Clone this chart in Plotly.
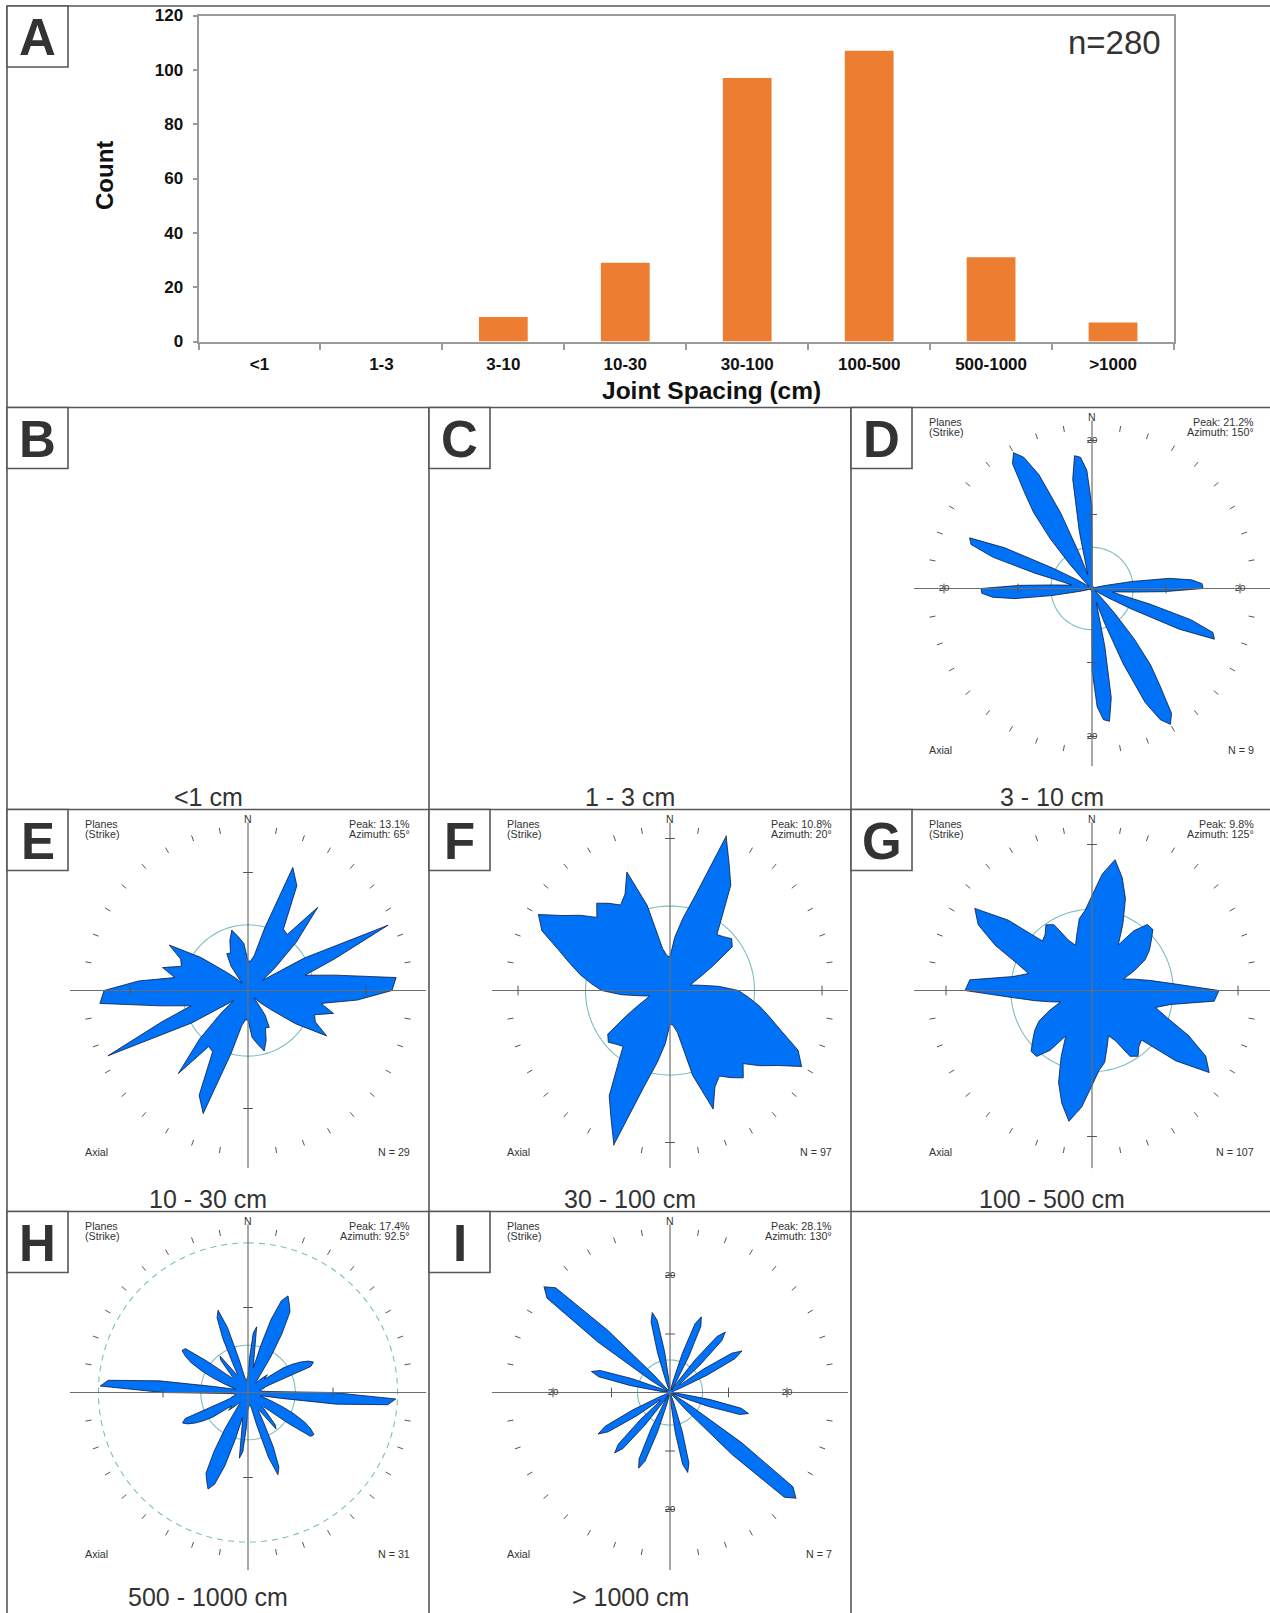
import plotly.graph_objects as go

W, H = 1270, 1613
FONT = "Liberation Sans, Arial, Helvetica, sans-serif"

# ---------------- Panel A data ----------------
spacing_classes = ["<1", "1-3", "3-10", "10-30", "30-100", "100-500", "500-1000", ">1000"]
joint_counts = [0, 0, 9, 29, 97, 107, 31, 7]
count_ticks = [0, 20, 40, 60, 80, 100, 120]
total_label = "n=280"

# ---------------- Panels B-I ----------------
panel_letters = ["B", "C", "D", "E", "F", "G", "H", "I"]
panel_titles = ["<1 cm", "1 - 3 cm", "3 - 10 cm", "10 - 30 cm", "30 - 100 cm",
                "100 - 500 cm", "500 - 1000 cm", "> 1000 cm"]

# Rose diagrams: percent of planes per strike azimuth, 0..180 deg (axial -> mirrored)
rose_D = [11, 0.5,
          0.3, 0.3, 0.3, 0.3, 0.3, 0.3, 0.3,
          0.3, 0.3, 0.3, 0.3, 0.3, 0.3, 0.3,
          0.3, 0.3, 0.3, 0.3, 0.3, 0.3, 0.3,
          0.3, 0.3, 0.3, 0.3, 0.3, 0.3, 0.3,
          1, 2, 5.5, 10.5, 13.5, 14.9, 15, 9.8, 5.5, 3.5,
          2.8, 4, 8, 14, 17.4, 17.9, 13, 6, 2.5, 1,
          0.5, 0.5, 0.5, 1, 2, 4.5, 8.8, 13, 16, 20,
          21.2, 20, 17, 11, 5, 2, 3, 8, 15, 18.1,
          17.8, 16]
rose_E = [2.5, 2.5, 3, 5.5, 11.1, 9.8, 6, 5.8, 9.2, 5.8,
          3, 1.5, 5.5, 13.1, 7.8, 5, 7.5, 12.6, 12.2, 9.3,
          6.3, 7.5, 6, 6.3, 7.7, 4.9, 2.5, 1.5, 0.8, 2.5,
          3.6, 3.5, 4.5, 5.3, 4.6, 4]
rose_F = [2.2, 3.5, 4.8, 6.5, 10.8, 9.2, 8, 6, 4.8, 5,
          5.3, 5, 3.3, 2.3, 1.7, 1.4, 2, 3.2, 4.5, 5.2,
          6, 6.8, 7.8, 9.3, 10, 8.6, 7.7, 6.8, 7.5, 7,
          6.5, 7, 8.3, 5.8, 2.8, 2.3]
rose_G = [6.5, 8, 9.1, 8, 6.7, 5, 3.6, 5, 5.9, 5.9,
          5.3, 4.8, 4.2, 3.2, 2.3, 3, 4, 5.5, 8.7, 8.4,
          5.5, 4.5, 5.5, 7.3, 9, 9.8, 7.5, 4.8, 5, 5.5,
          5.2, 3.8, 3.3, 4, 5, 5.5]
rose_H = [2, 4, 7, 7.8, 4, 3, 5.5, 9, 11.5, 12.3,
          11.5, 10.7, 8, 5, 2.5, 1.5, 1.5, 2, 2.5, 3.1,
          2.5, 3, 5, 6.2, 7.2, 8, 8.5, 8, 3, 2,
          2, 1.5, 1.5, 1.5, 1.8, 2.5, 10, 17.4, 16.5, 10.5,
          4, 2, 1.5, 2, 3, 4.5, 6, 7.5, 8.5, 9.2,
          9, 6, 3.5, 2.5, 2.5, 3.5, 5, 5.4, 3.5, 2.5,
          2.5, 4, 7, 9.5, 10.3, 8, 4, 2, 1.5, 1.5,
          1.5, 1.8]
rose_I = [0.5, 0.5, 0.5, 0.5, 0.5, 0.5, 2, 7, 12.5, 14,
          12.5, 7, 2, 0.5, 2, 7, 12.5, 14, 12.5, 7,
          2, 2, 7, 12.5, 14.2, 12.5, 7, 2, 0.5, 0.5,
          0.5, 0.5, 0.5, 0.5, 0.5, 0.5, 0.5, 0.5, 0.5, 2,
          7, 12.5, 13.9, 12.5, 7, 2, 0.5, 0.5, 0.5, 4,
          15, 26.5, 28.1, 26.5, 15, 4, 0.5, 0.5, 0.5, 0.5,
          0.5, 0.5, 0.5, 0.5, 2, 7, 12.5, 14, 12.5, 7,
          2, 0.5]
rose_sets = [rose_D, rose_E, rose_F, rose_G, rose_H, rose_I]
rose_bin_deg = [2.5, 5, 5, 5, 2.5, 2.5]
rose_peak = ["21.2%", "13.1%", "10.8%", "9.8%", "17.4%", "28.1%"]
rose_azimuth = ["150°", "65°", "20°", "125°", "92.5°", "130°"]
rose_n = [9, 29, 97, 107, 31, 7]
uniform_pct = 5.56          # reference circle (uniform distribution)
h_outer_circle_pct = 17.6   # dashed circle in panel H
axis_value_label = 20

# ---------------- styling / layout ----------------
col_left = [7, 429, 851]
row_top = [407.5, 809.5, 1211.5]
subtitle_dy = [389, 389, 385.5]
cell_pos = {"B": (0, 0), "C": (1, 0), "D": (2, 0), "E": (0, 1), "F": (1, 1),
            "G": (2, 1), "H": (0, 2), "I": (1, 2)}
rose_letters = ["D", "E", "F", "G", "H", "I"]
rose_px_per_pct = [7.4, 11.8, 15.2, 14.6, 8.5, 5.85]
rose_labelled = [True, False, False, False, False, True]
BLUE = "#0072F7"
TEAL = "#7DBDBD"
BORDER = "#575757"
TXT = "#333333"


def px(x):
    return x / W


def py(y):
    return 1 - y / H


fig = go.Figure()
shapes = []
annotations = []


def line(x0, y0, x1, y1, color=BORDER, width=1.6):
    shapes.append(dict(type="line", xref="paper", yref="paper",
                       x0=px(x0), y0=py(y0), x1=px(x1), y1=py(y1),
                       line=dict(color=color, width=width)))


def text(t, x, y, size, xanchor="center", color=TXT, bold=False):
    annotations.append(dict(text=("<b>%s</b>" % t) if bold else t,
                            x=px(x), y=py(y), xref="paper", yref="paper",
                            xanchor=xanchor, yanchor="middle", showarrow=False,
                            font=dict(family=FONT, size=size, color=color)))


# frame / grid lines
line(7, 6, 1270, 6)
line(7, 6, 7, 1613)
for yy in row_top:
    line(7, yy, 1270, yy)
line(429, row_top[0], 429, 1613)
line(851, row_top[0], 851, 1613)


def letter_box(letter, x0, y0):
    shapes.append(dict(type="rect", xref="paper", yref="paper",
                       x0=px(x0), y0=py(y0 + 61), x1=px(x0 + 61), y1=py(y0),
                       line=dict(color=BORDER, width=1.6), fillcolor="white"))
    text(letter, x0 + 30.5, y0 + 32, 51, bold=True)


letter_box("A", 7, 6)

# ---------------- Panel A: bar chart ----------------
fig.add_trace(go.Bar(x=spacing_classes, y=joint_counts, width=0.4,
                     marker=dict(color="#ED7D31", line=dict(width=0)),
                     hoverinfo="x+y", xaxis="x", yaxis="y"))

axis_common = dict(showline=True, linecolor="#9a9a9a", linewidth=2, mirror=True,
                   showgrid=False, zeroline=False, ticks="outside",
                   tickcolor="#9a9a9a", tickwidth=1.5, automargin=False)
fig.update_layout(
    xaxis=dict(domain=[px(198.5), px(1174)], type="category",
               categoryorder="array", categoryarray=spacing_classes,
               tickson="boundaries", ticklen=6, ticklabelstandoff=6,
               tickfont=dict(family=FONT, size=17, color="#111", weight="bold"),
               anchor="y", **axis_common),
    yaxis=dict(domain=[py(341.5), py(15.5)], range=[0, 120], tickvals=count_ticks,
               ticklen=4, ticklabelstandoff=6,
               tickfont=dict(family=FONT, size=17, color="#111", weight="bold"),
               anchor="x", **axis_common),
)
text("Count", 0, 0, 24, bold=True)
annotations[-1].update(x=px(105), y=py(176), textangle=-90, font=dict(family=FONT, size=24, color="#111"))
text("Joint Spacing (cm)", 711, 391, 24.5, color="#111", bold=True)
text(total_label, 1163, 43, 33, xanchor="right", color=TXT)

# ---------------- Panels B-I ----------------
for letter, title in zip(panel_letters, panel_titles):
    c, r = cell_pos[letter]
    x0, y0 = col_left[c], row_top[r]
    letter_box(letter, x0, y0)
    text(title, x0 + 201, y0 + subtitle_dy[r], 25)

circle_theta = list(range(0, 361, 3))

for k, letter in enumerate(rose_letters):
    c, r = cell_pos[letter]
    x0, y0 = col_left[c], row_top[r]
    cx, cy = x0 + 241, y0 + 181
    R = 178
    ppp = rose_px_per_pct[k]
    rmax = R / ppp
    name = "polar" if k == 0 else "polar%d" % (k + 1)
    fig.layout[name] = dict(
        domain=dict(x=[max(0, px(cx - R)), min(1, px(cx + R))],
                    y=[py(cy + R), py(cy - R)]),
        bgcolor="rgba(0,0,0,0)",
        radialaxis=dict(visible=False, range=[0, rmax]),
        angularaxis=dict(visible=False, direction="clockwise", rotation=90,
                         showgrid=False, showline=False, showticklabels=False, ticks=""),
    )

    # uniform reference circle
    fig.add_trace(go.Scatterpolar(r=[uniform_pct] * len(circle_theta), theta=circle_theta,
                                  mode="lines", line=dict(color=TEAL, width=1.1),
                                  subplot=name, hoverinfo="skip"))
    if letter == "H":
        fig.add_trace(go.Scatterpolar(r=[h_outer_circle_pct] * len(circle_theta),
                                      theta=circle_theta, mode="lines",
                                      line=dict(color=TEAL, width=1.1, dash="6px,5px"),
                                      subplot=name, hoverinfo="skip"))

    # rose petals (axial: mirrored through 180 deg)
    vals = rose_sets[k]
    step = rose_bin_deg[k]
    n = len(vals)
    theta = [i * step for i in range(2 * n)] + [0]
    rr = vals + vals + [vals[0]]
    fig.add_trace(go.Scatterpolar(r=rr, theta=theta, mode="lines", fill="toself",
                                  fillcolor=BLUE, line=dict(color="#0d1a40", width=0.8),
                                  subplot=name, hoverinfo="skip"))

    # cross-hair axes
    cr, ct = [], []
    for t, rend in ((0, 168 / ppp), (90, rmax), (180, rmax), (270, rmax)):
        cr += [0, rend, None]
        ct += [t, t, None]
    fig.add_trace(go.Scatterpolar(r=cr, theta=ct, mode="lines",
                                  line=dict(color="#6e6e6e", width=1.2),
                                  subplot=name, hoverinfo="skip"))

    # outer ring of 10-degree dashes
    dr, dt = [], []
    for t in range(10, 360, 10):
        if t % 90:
            dr += [159 / ppp, 165 / ppp, None]
            dt += [t, t, None]
    fig.add_trace(go.Scatterpolar(r=dr, theta=dt, mode="lines",
                                  line=dict(color="#555", width=1),
                                  subplot=name, hoverinfo="skip"))

    # scale ticks on the axes
    tr, tt, ts = [], [], []
    v = 10
    while v * ppp < 158:
        for t in (0, 90, 180, 270):
            tr.append(v)
            tt.append(t)
            ts.append("line-ew" if t in (0, 180) else "line-ns")
        v += 10
    fig.add_trace(go.Scatterpolar(r=tr, theta=tt, mode="markers",
                                  marker=dict(symbol=ts, size=7, color="#555",
                                              line=dict(color="#555", width=1)),
                                  subplot=name, hoverinfo="skip"))
    if rose_labelled[k]:
        fig.add_trace(go.Scatterpolar(r=[axis_value_label] * 4, theta=[0, 90, 180, 270],
                                      mode="text", text=[str(axis_value_label)] * 4,
                                      textfont=dict(family=FONT, size=9.5, color="#333"),
                                      subplot=name, hoverinfo="skip"))

    # panel texts
    text("N", cx, cy - 172, 10.5)
    text("Planes", x0 + 76, y0 + 14, 10.7, xanchor="left")
    text("(Strike)", x0 + 76, y0 + 24, 10.7, xanchor="left")
    text("Peak: " + rose_peak[k], x0 + 405, y0 + 14, 10.7, xanchor="right")
    text("Azimuth: " + rose_azimuth[k], x0 + 405, y0 + 24, 10.7, xanchor="right")
    text("Axial", x0 + 76, y0 + 342, 10.7, xanchor="left")
    text("N = %d" % rose_n[k], x0 + 405, y0 + 342, 10.7, xanchor="right")

fig.update_layout(
    width=W, height=H, margin=dict(l=0, r=0, t=0, b=0, autoexpand=False),
    paper_bgcolor="white", plot_bgcolor="white", showlegend=False,
    shapes=shapes, annotations=annotations,
    font=dict(family=FONT, color=TXT),
)

fig.write_html(
    "out.html", config={"displayModeBar": False},
    post_script=("document.documentElement.style.margin='0';"
                 "document.body.style.margin='0';document.body.style.padding='0';"
                 "var gd=document.getElementById('{plot_id}');"
                 "gd.style.position='fixed';gd.style.left='0px';gd.style.top='0px';"),
)
